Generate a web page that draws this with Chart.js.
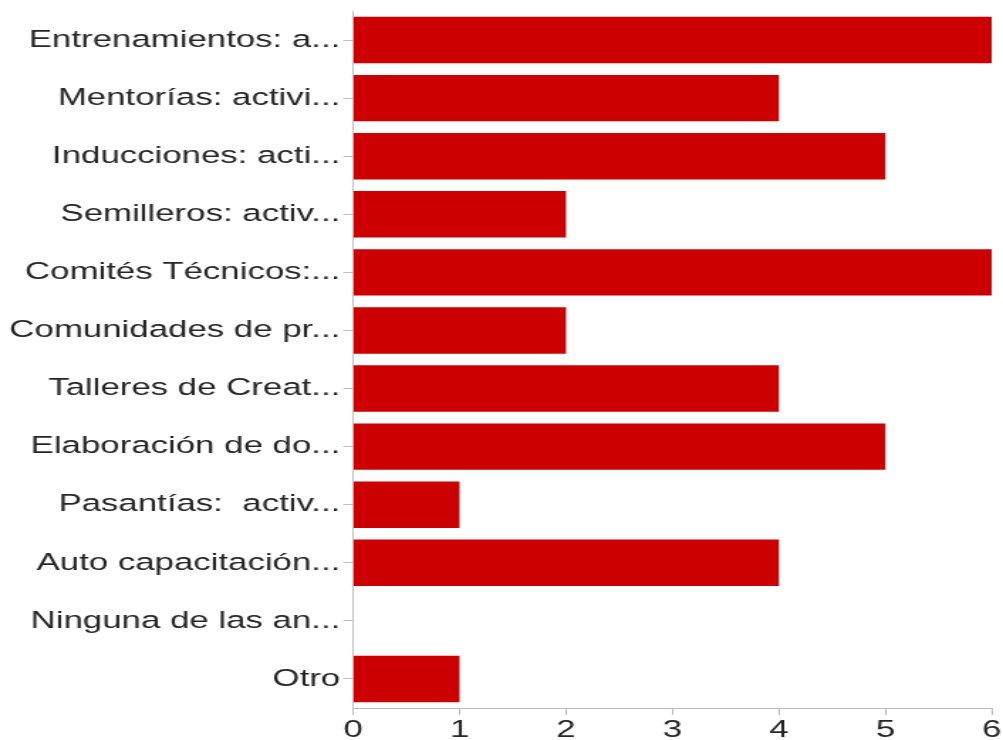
<!DOCTYPE html>
<html>
<head>
<meta charset="utf-8">
<script src="https://cdn.jsdelivr.net/npm/chart.js@4/dist/chart.umd.min.js"></script>
<style>
    html, body { margin: 0; padding: 0; background: #fff; overflow: hidden; }
    #wrap { width: 706px; height: 740px; transform: scaleX(1.4207); transform-origin: 0 0; }
</style>
</head>
<body>
<div id="wrap"><canvas id="actividadesChart" width="706" height="740"></canvas></div>
<script>
'use strict';

// Categorías (etiquetas recortadas tal como se muestran)
const categorias = [
    'Entrenamientos: a...',
    'Mentorías: activi...',
    'Inducciones: acti...',
    'Semilleros: activ...',
    'Comités Técnicos:...',
    'Comunidades de pr...',
    'Talleres de Creat...',
    'Elaboración de do...',
    'Pasantías:  activ...',
    'Auto capacitación...',
    'Ninguna de las an...',
    'Otro'
];

// Número de respuestas por categoría
const respuestas = [6, 4, 5, 2, 6, 2, 4, 5, 1, 4, 0, 1];

// Marcas del eje horizontal
const ticksX = [0, 1, 2, 3, 4, 5, 6];

const colorEje = '#bdbdbd';
const colorTexto = '#262626';
const fuente = { family: 'Liberation Sans, Arial, sans-serif', size: 24.5 };

function initActividadesChart() {
    const ctx = document.getElementById('actividadesChart').getContext('2d');

    new Chart(ctx, {
        type: 'bar',
        data: {
            labels: categorias,
            datasets: [{
                data: respuestas,
                backgroundColor: '#cc0000',
                borderWidth: 0,
                barPercentage: 0.8,
                categoryPercentage: 1.0
            }]
        },
        options: {
            indexAxis: 'y',
            responsive: false,
            animation: false,
            devicePixelRatio: 1,
            layout: {
                padding: { top: 11, right: 7, left: 0, bottom: 0 }
            },
            plugins: {
                legend: { display: false },
                tooltip: { enabled: false }
            },
            scales: {
                x: {
                    min: 0,
                    max: 6,
                    afterBuildTicks: function(axis) {
                        axis.ticks = ticksX.map(v => ({ value: v }));
                    },
                    afterFit: function(axis) {
                        axis.height = 32;
                    },
                    grid: {
                        drawOnChartArea: false,
                        drawTicks: true,
                        tickLength: 7,
                        color: colorEje
                    },
                    border: { display: true, color: colorEje, width: 1 },
                    ticks: {
                        color: colorTexto,
                        padding: 1,
                        font: fuente
                    }
                },
                y: {
                    afterFit: function(axis) {
                        axis.width = 248.5;
                        // sin relleno extra arriba/abajo por la altura de las etiquetas
                        axis.paddingTop = 0;
                        axis.paddingBottom = 0;
                    },
                    grid: {
                        offset: false,
                        drawOnChartArea: false,
                        drawTicks: true,
                        tickLength: 7,
                        color: colorEje
                    },
                    border: { display: true, color: colorEje, width: 1 },
                    ticks: {
                        color: colorTexto,
                        padding: 2,
                        autoSkip: false,
                        font: fuente
                    }
                }
            }
        }
    });
}

initActividadesChart();
</script>
</body>
</html>
